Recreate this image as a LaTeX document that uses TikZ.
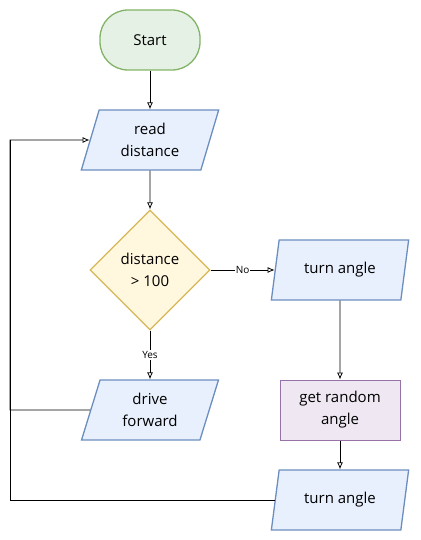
\documentclass[tikz,border=0pt]{standalone}
\usepackage{fontspec}
\setmainfont{Open Sans}
\usetikzlibrary{arrows.meta,shapes.geometric}
\definecolor{startline}{HTML}{82B366}
\definecolor{startfill}{HTML}{E6F1E5}
\definecolor{ioline}{HTML}{6C8EBF}
\definecolor{iofill}{HTML}{E8F0FD}
\definecolor{decline}{HTML}{D6B656}
\definecolor{decfill}{HTML}{FFF7DE}
\definecolor{procline}{HTML}{9673A6}
\definecolor{procfill}{HTML}{EFE8F2}

\begin{document}
\begin{tikzpicture}[x=1pt,y=-1pt,font=\fontsize{15}{22}\selectfont,
  io/.style={trapezium,trapezium left angle=73,trapezium right angle=107,
    trapezium stretches=true,minimum width=138pt,minimum height=60pt,
    inner sep=0pt,align=center,draw=ioline,fill=iofill,line width=1.3pt},
  flow/.style={->,>={Latex[open,length=7pt,width=6pt]},line width=0.8pt},
  lbl/.style={fill=white,inner sep=1pt,font=\fontsize{10}{12}\selectfont}]
  \useasboundingbox (0,0) rectangle (420,540);
  % Shapes
  \node[draw=startline,fill=startfill,line width=1.3pt,rounded corners=28pt,
    minimum width=100pt,minimum height=60pt] (start) at (150,40) {Start};
  \node[io] (read) at (150,140) {read\\distance};
  \node[diamond,draw=decline,fill=decfill,line width=1.3pt,minimum width=120pt,
    minimum height=120pt,inner sep=0pt,align=center] (dist) at (150,270) {distance\\> 100};
  \node[io] (turnA) at (340,270) {turn angle};
  \node[draw=procline,fill=procfill,line width=1pt,minimum width=120pt,
    minimum height=60pt,align=center] (rand) at (340,410) {get random\\angle};
  \node[io] (turnB) at (340,500) {turn angle};
  \node[io] (drive) at (150,410) {drive\\forward};
  \coordinate (back) at (10,140);
  % Arrows
  \draw[flow] (start) -- (read);
  \draw[flow] (read) -- (dist);
  \draw[flow] (dist) -- node[lbl] {No} (turnA);
  \draw[flow] (dist) -- node[lbl] {Yes} (drive);
  \draw[flow] (turnA) -- (rand);
  \draw[flow] (rand) -- (turnB);
  \draw[flow] (drive.west) -| (back) -- (read.west);
  \draw[line width=0.8pt] (turnB.west) -| (back);
\end{tikzpicture}
\end{document}
